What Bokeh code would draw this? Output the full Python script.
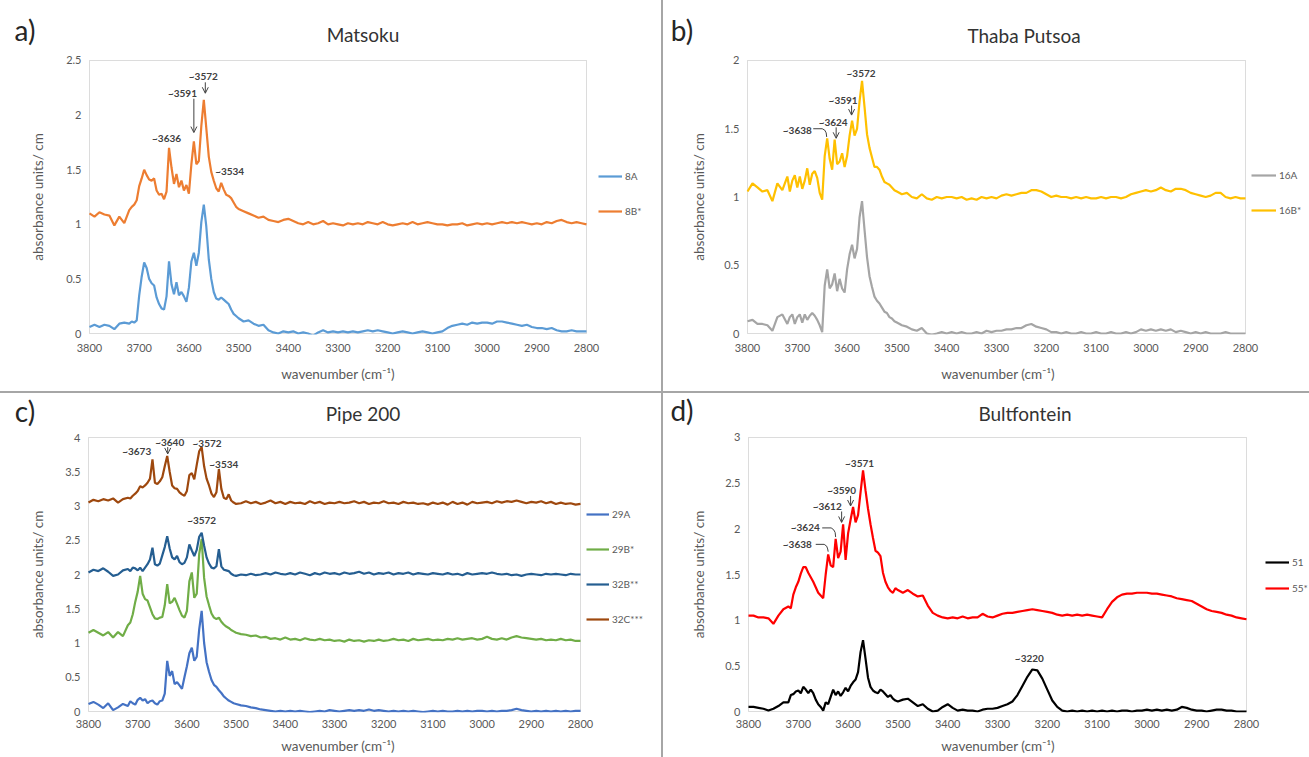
from bokeh.plotting import figure
from bokeh.layouts import row, column
from bokeh.models import (Range1d, FixedTicker, NumeralTickFormatter, Label, Arrow,
                          OpenHead, Legend, LegendItem, Div, BoxAnnotation)
from bokeh.embed import file_html
from bokeh.resources import INLINE

# ---------------- wavenumber grid (cm-1) ----------------
WN = list(range(3800, 3720, -10)) + list(range(3720, 3495, -5)) + list(range(3490, 2795, -10))

X_TICKS = [3800, 3700, 3600, 3500, 3400, 3300, 3200, 3100, 3000, 2900, 2800]
X_LEFT, X_RIGHT = 3800, 2800

# ---------------- a) Matsoku ----------------
S_8A = [0.06, 0.08, 0.06, 0.08, 0.07, 0.04, 0.09, 0.10,
        0.09, 0.11, 0.10, 0.12, 0.35, 0.52, 0.65, 0.60, 0.50,
        0.46, 0.44, 0.33, 0.27, 0.23, 0.22, 0.34, 0.66, 0.45,
        0.36, 0.47, 0.35, 0.38, 0.34, 0.29, 0.42, 0.66, 0.74,
        0.62, 0.74, 1.02, 1.18, 0.98, 0.68, 0.50, 0.38, 0.32,
        0.31, 0.33, 0.31, 0.29, 0.27, 0.22, 0.18, 0.16, 0.14,
        0.11, 0.12, 0.09, 0.07, 0.08, 0.03, 0.01, 0.00, 0.02, 0.01,
        0.02, 0.00, 0.01, 0.00, -0.02, 0.01, 0.03, 0.01, 0.02, 0.01,
        0.02, 0.01, 0.02, 0.01, 0.02, 0.03, 0.02, 0.03, 0.02, 0.01,
        0.00, 0.01, 0.02, 0.01, 0.00, 0.01, 0.02, 0.01, 0.00, 0.01,
        0.02, 0.05, 0.07, 0.08, 0.09, 0.08, 0.10, 0.09, 0.10, 0.10,
        0.09, 0.11, 0.11, 0.10, 0.09, 0.08, 0.07, 0.08, 0.06, 0.05,
        0.05, 0.04, 0.05, 0.03, 0.02, 0.02, 0.03, 0.02, 0.02, 0.02]
S_8B = [1.10, 1.07, 1.11, 1.09, 1.08, 0.99, 1.07, 1.01,
        1.13, 1.16, 1.18, 1.22, 1.35, 1.42, 1.50, 1.45, 1.41,
        1.40, 1.42, 1.31, 1.27, 1.28, 1.23, 1.30, 1.70, 1.52,
        1.37, 1.46, 1.34, 1.40, 1.31, 1.36, 1.28, 1.55, 1.76,
        1.55, 1.58, 1.90, 2.14, 1.88, 1.62, 1.48, 1.40, 1.33,
        1.30, 1.38, 1.32, 1.27, 1.26, 1.24, 1.20, 1.16, 1.14,
        1.12, 1.10, 1.08, 1.06, 1.07, 1.04, 1.03, 1.02, 1.04, 1.05,
        1.03, 1.01, 1.00, 1.02, 1.00, 1.01, 1.03, 1.00, 1.01, 1.00,
        0.99, 1.01, 1.00, 1.01, 1.00, 1.02, 1.01, 1.00, 1.02, 1.00,
        0.99, 1.00, 1.01, 1.00, 1.02, 1.00, 1.01, 1.02, 1.01, 1.00,
        1.00, 0.99, 1.00, 1.00, 1.01, 0.99, 1.00, 1.01, 1.00, 1.01,
        1.00, 1.01, 1.02, 1.01, 1.02, 1.01, 1.02, 1.01, 1.00, 1.01,
        1.00, 1.02, 1.01, 1.03, 1.04, 1.02, 1.01, 1.02, 1.01, 1.00]

# ---------------- b) Thaba Putsoa ----------------
S_16A = [0.09, 0.10, 0.07, 0.07, 0.06, 0.02, 0.12, 0.14,
         0.07, 0.12, 0.14, 0.07, 0.12, 0.14, 0.08, 0.14, 0.10,
         0.13, 0.15, 0.13, 0.10, 0.06, 0.01, 0.35, 0.47, 0.33,
         0.36, 0.44, 0.31, 0.40, 0.33, 0.30, 0.47, 0.58, 0.65,
         0.55, 0.62, 0.85, 0.97, 0.76, 0.56, 0.42, 0.34, 0.27,
         0.24, 0.22, 0.19, 0.16, 0.15, 0.12, 0.11, 0.09, 0.08,
         0.06, 0.05, 0.03, 0.02, 0.04, 0.00, -0.01, 0.00, 0.01, 0.00,
         0.01, 0.00, 0.01, 0.00, 0.00, 0.01, 0.00, 0.02, 0.01, 0.02,
         0.02, 0.03, 0.03, 0.04, 0.04, 0.06, 0.07, 0.05, 0.04, 0.03,
         0.01, 0.01, 0.00, 0.01, 0.00, 0.00, 0.01, 0.00, 0.00, 0.01,
         0.00, 0.00, 0.01, 0.00, 0.00, 0.01, 0.00, 0.01, 0.03, 0.02,
         0.03, 0.02, 0.03, 0.02, 0.03, 0.01, 0.02, 0.01, 0.00, 0.01,
         0.00, 0.01, 0.00, 0.00, 0.00, 0.01, 0.00, 0.00, 0.00, 0.00]
S_16B = [1.04, 1.10, 1.07, 1.04, 1.05, 0.97, 1.10, 1.05,
         1.15, 1.04, 1.12, 1.16, 1.07, 1.15, 1.06, 1.12, 1.21,
         1.09, 1.17, 1.19, 1.14, 1.03, 0.98, 1.30, 1.43, 1.28,
         1.20, 1.42, 1.24, 1.26, 1.32, 1.22, 1.30, 1.45, 1.56,
         1.45, 1.50, 1.70, 1.85, 1.66, 1.46, 1.36, 1.29, 1.22,
         1.22, 1.20, 1.15, 1.11, 1.10, 1.09, 1.07, 1.05, 1.04,
         1.02, 1.03, 1.00, 0.99, 1.02, 0.99, 0.98, 1.00, 0.99, 1.00,
         1.00, 0.99, 1.00, 0.98, 0.99, 0.98, 1.00, 0.99, 1.00, 0.99,
         1.01, 1.02, 1.01, 1.02, 1.03, 1.03, 1.05, 1.05, 1.04, 1.02,
         1.00, 1.01, 1.00, 1.00, 0.99, 1.00, 0.99, 1.00, 0.99, 0.99,
         1.00, 0.99, 1.00, 1.00, 0.99, 1.00, 1.02, 1.03, 1.04, 1.05,
         1.04, 1.05, 1.07, 1.05, 1.04, 1.06, 1.06, 1.05, 1.03, 1.02,
         1.01, 1.00, 1.01, 1.03, 1.03, 1.00, 0.99, 1.00, 0.99, 0.99]

# ---------------- c) Pipe 200 ----------------
S_29A = [0.11, 0.14, 0.10, 0.05, 0.12, 0.02, 0.06, 0.11,
         0.08, 0.15, 0.12, 0.10, 0.17, 0.20, 0.16, 0.18, 0.12,
         0.15, 0.16, 0.12, 0.10, 0.15, 0.16, 0.26, 0.74, 0.52,
         0.59, 0.40, 0.43, 0.38, 0.33, 0.50, 0.66, 0.85, 0.93,
         0.74, 0.80, 1.20, 1.47, 1.00, 0.72, 0.58, 0.46, 0.39,
         0.36, 0.31, 0.27, 0.22, 0.19, 0.16, 0.14, 0.12, 0.11,
         0.09, 0.08, 0.06, 0.05, 0.03, 0.02, 0.01, 0.00, 0.01, 0.00,
         0.01, 0.00, 0.01, 0.00, -0.01, 0.00, 0.01, 0.00, 0.02, 0.01,
         0.00, 0.01, 0.02, 0.01, 0.02, 0.01, 0.03, 0.01, 0.02, 0.01,
         0.00, 0.01, 0.00, 0.01, 0.00, 0.01, 0.00, -0.01, 0.00, 0.01,
         0.00, 0.01, 0.00, 0.00, 0.01, 0.00, 0.01, 0.00, 0.01, 0.01,
         0.00, 0.01, 0.00, 0.01, 0.01, 0.02, 0.04, 0.02, 0.01, 0.00,
         0.01, 0.00, 0.01, 0.00, 0.01, 0.00, 0.01, 0.00, 0.01, 0.01]
S_29B = [1.15, 1.19, 1.15, 1.11, 1.16, 1.08, 1.16, 1.10,
         1.26, 1.30, 1.42, 1.60, 1.75, 1.98, 1.72, 1.64, 1.62,
         1.52, 1.42, 1.36, 1.35, 1.37, 1.38, 1.55, 1.86, 1.58,
         1.60, 1.66, 1.57, 1.48, 1.40, 1.37, 1.47, 1.90, 2.03,
         1.66, 1.72, 2.30, 2.52, 1.95, 1.68, 1.55, 1.43, 1.37,
         1.35, 1.37, 1.31, 1.27, 1.24, 1.22, 1.19, 1.17, 1.15,
         1.13, 1.12, 1.10, 1.11, 1.08, 1.09, 1.06, 1.07, 1.05, 1.08,
         1.05, 1.06, 1.04, 1.07, 1.05, 1.04, 1.06, 1.04, 1.05, 1.03,
         1.04, 1.02, 1.05, 1.03, 1.04, 1.02, 1.04, 1.03, 1.05, 1.03,
         1.04, 1.06, 1.04, 1.05, 1.03, 1.06, 1.04, 1.05, 1.06, 1.04,
         1.05, 1.04, 1.06, 1.05, 1.07, 1.05, 1.06, 1.07, 1.05, 1.06,
         1.09, 1.06, 1.05, 1.07, 1.05, 1.08, 1.10, 1.08, 1.07, 1.06,
         1.05, 1.06, 1.04, 1.05, 1.04, 1.06, 1.04, 1.05, 1.03, 1.03]
S_32B = [2.03, 2.07, 2.05, 2.09, 2.04, 1.98, 2.00, 2.06,
         2.08, 2.05, 2.10, 2.09, 2.06, 2.10, 2.05, 2.10, 2.15,
         2.22, 2.39, 2.15, 2.13, 2.16, 2.28, 2.40, 2.56, 2.38,
         2.25, 2.22, 2.27, 2.18, 2.15, 2.17, 2.25, 2.44, 2.35,
         2.27, 2.36, 2.55, 2.61, 2.42, 2.25, 2.16, 2.10, 2.09,
         2.12, 2.37, 2.12, 2.07, 2.06, 2.05, 2.01, 1.99, 1.98,
         2.00, 1.99, 2.01, 1.99, 2.00, 2.02, 2.00, 2.03, 2.01, 2.00,
         2.02, 2.00, 2.03, 2.01, 1.99, 2.02, 2.00, 2.03, 2.01, 2.02,
         2.00, 2.03, 2.01, 2.02, 2.04, 2.01, 2.03, 2.00, 2.02, 2.01,
         2.03, 2.00, 2.02, 2.01, 2.03, 2.00, 2.02, 2.01, 2.00, 2.02,
         2.01, 2.00, 2.02, 2.00, 2.01, 1.99, 2.02, 2.00, 2.01, 2.02,
         2.01, 2.03, 2.01, 2.00, 2.01, 1.99, 2.00, 1.98, 2.00, 2.01,
         2.00, 1.99, 2.01, 2.00, 2.01, 2.00, 1.99, 2.01, 2.00, 2.00]
S_32C = [3.05, 3.09, 3.07, 3.10, 3.08, 3.11, 3.05, 3.10,
         3.12, 3.11, 3.15, 3.18, 3.22, 3.29, 3.27, 3.30, 3.34,
         3.40, 3.68, 3.34, 3.32, 3.36, 3.42, 3.58, 3.73, 3.50,
         3.30, 3.26, 3.25, 3.20, 3.17, 3.15, 3.22, 3.45, 3.48,
         3.39, 3.60, 3.80, 3.86, 3.58, 3.40, 3.30, 3.18, 3.13,
         3.20, 3.54, 3.25, 3.12, 3.10, 3.17, 3.08, 3.05, 3.03,
         3.04, 3.07, 3.04, 3.06, 3.03, 3.05, 3.08, 3.04, 3.06, 3.03,
         3.06, 3.04, 3.05, 3.03, 3.07, 3.04, 3.06, 3.03, 3.05, 3.04,
         3.06, 3.04, 3.05, 3.07, 3.04, 3.06, 3.03, 3.05, 3.04, 3.07,
         3.04, 3.05, 3.03, 3.06, 3.04, 3.05, 3.03, 3.04, 3.02, 3.05,
         3.03, 3.05, 3.02, 3.06, 3.03, 3.05, 3.02, 3.06, 3.04, 3.05,
         3.06, 3.04, 3.07, 3.05, 3.07, 3.06, 3.08, 3.06, 3.04, 3.06,
         3.05, 3.07, 3.04, 3.06, 3.03, 3.05, 3.03, 3.04, 3.02, 3.03]

# ---------------- d) Bultfontein ----------------
S_51 = [0.05, 0.05, 0.04, 0.03, 0.01, 0.03, 0.06, 0.10,
        0.10, 0.18, 0.19, 0.22, 0.23, 0.20, 0.27, 0.24, 0.20,
        0.24, 0.20, 0.13, 0.08, 0.05, 0.01, 0.10, 0.08, 0.16,
        0.24, 0.18, 0.22, 0.17, 0.21, 0.26, 0.22, 0.28, 0.32,
        0.35, 0.43, 0.65, 0.78, 0.58, 0.37, 0.27, 0.23, 0.21,
        0.20, 0.24, 0.22, 0.19, 0.16, 0.18, 0.14, 0.12, 0.11,
        0.13, 0.14, 0.10, 0.06, 0.08, 0.03, 0.00, 0.01, 0.05, 0.08,
        0.04, 0.01, 0.02, 0.01, 0.01, 0.00, 0.02, 0.03, 0.03, 0.04,
        0.06, 0.08, 0.11, 0.18, 0.28, 0.38, 0.46, 0.45, 0.36, 0.24,
        0.12, 0.05, 0.01, 0.00, 0.01, 0.00, 0.01, 0.00, 0.01, 0.00,
        0.01, 0.00, 0.01, 0.00, 0.01, 0.01, 0.00, 0.01, 0.01, 0.02,
        0.01, 0.02, 0.01, 0.02, 0.01, 0.02, 0.05, 0.04, 0.02, 0.01,
        0.01, 0.00, 0.01, 0.02, 0.02, 0.01, 0.01, 0.00, 0.00, 0.00]
S_55 = [1.05, 1.05, 1.03, 1.03, 1.02, 0.96, 1.05, 1.12,
        1.15, 1.13, 1.28, 1.36, 1.42, 1.51, 1.58, 1.58, 1.52,
        1.47, 1.42, 1.36, 1.30, 1.27, 1.24, 1.50, 1.72, 1.60,
        1.58, 1.89, 1.68, 1.75, 2.05, 1.66, 1.95, 2.10, 2.24,
        2.07, 2.15, 2.40, 2.64, 2.42, 2.22, 2.05, 1.90, 1.76,
        1.74, 1.70, 1.52, 1.42, 1.36, 1.32, 1.30, 1.35, 1.33,
        1.30, 1.33, 1.29, 1.26, 1.27, 1.16, 1.08, 1.05, 1.03, 1.02,
        1.03, 1.02, 1.04, 1.02, 1.03, 1.03, 1.07, 1.04, 1.03, 1.05,
        1.07, 1.08, 1.08, 1.09, 1.10, 1.11, 1.12, 1.11, 1.10, 1.09,
        1.08, 1.06, 1.05, 1.06, 1.05, 1.06, 1.05, 1.06, 1.05, 1.04,
        1.03, 1.12, 1.20, 1.25, 1.28, 1.29, 1.29, 1.30, 1.30, 1.30,
        1.29, 1.29, 1.28, 1.27, 1.26, 1.24, 1.23, 1.22, 1.21, 1.18,
        1.15, 1.12, 1.10, 1.09, 1.08, 1.06, 1.05, 1.03, 1.02, 1.01]

# ---------------- peak annotations: (text, wavenumber, absorbance) ----------------
NOTES_A = [("~3572", 3571, 2.36), ("~3591", 3613, 2.20), ("~3636", 3645, 1.79), ("~3534", 3518, 1.49)]
ARROWS_A = [(3567, 2.30, 2.20), (3590, 2.15, 1.84)]
NOTES_B = [("~3572", 3572, 1.91), ("~3591", 3608, 1.71), ("~3624", 3628, 1.55), ("~3638", 3700, 1.49)]
ARROWS_B = [(3591, 1.67, 1.60), (3622, 1.51, 1.43)]
LINKS_B = [([3668, 3650, 3645, 3642, 3641], [1.50, 1.50, 1.49, 1.47, 1.44])]
NOTES_C = [("~3673", 3702, 3.81), ("~3640", 3635, 3.93), ("~3572", 3559, 3.92),
           ("~3534", 3525, 3.62), ("~3572", 3570, 2.80)]
ARROWS_C = [(3639, 3.86, 3.76)]
NOTES_D = [("~3571", 3577, 2.72), ("~3590", 3613, 2.43), ("~3612", 3642, 2.25),
           ("~3624", 3686, 2.02), ("~3638", 3702, 1.83), ("~3220", 3236, 0.59)]
ARROWS_D = [(3595, 2.36, 2.25), (3613, 2.19, 2.07)]
LINKS_D = [([3652, 3634, 3629, 3626, 3625], [2.01, 2.01, 1.99, 1.96, 1.91]),
           ([3665, 3648, 3643, 3641, 3640], [1.83, 1.83, 1.81, 1.78, 1.75])]

FONT = "Lato"
GREY = "#595959"
INK = "#404040"
SEP = "#a6a6a6"
X_LABEL = "wavenumber (cm\u207b\u00b9)"


def header(width, height, title, letter, title_xy, letter_xy):
    html = (
        f'<div style="position:relative;width:{width}px;height:{height}px;'
        f'font-family:Lato,sans-serif;overflow:visible;">'
        f'<span style="position:absolute;left:{letter_xy[0]}px;top:{letter_xy[1]}px;'
        f'transform:translate(-50%,-50%);font-size:28px;line-height:1;color:#262626;'
        f'white-space:nowrap;">{letter}</span>'
        f'<span style="position:absolute;left:{title_xy[0]}px;top:{title_xy[1]}px;'
        f'transform:translate(-50%,-50%);font-size:19px;line-height:1;color:#333333;'
        f'white-space:nowrap;">{title}</span></div>'
    )
    return Div(text=html, width=width, height=height, margin=0)


def footer(width, height, cx, cy):
    html = (
        f'<div style="position:relative;width:{width}px;height:{height}px;'
        f'font-family:Lato,sans-serif;">'
        f'<span style="position:absolute;left:{cx}px;top:{cy}px;'
        f'transform:translate(-50%,-50%);font-size:13.5px;line-height:1;color:{GREY};'
        f'white-space:nowrap;">{X_LABEL}</span></div>'
    )
    return Div(text=html, width=width, height=height, margin=0)


def panel(width, height, plot_box, ymax, yticks, series, legend_xy, legend_gap, glyph_w,
          tick_standoff, y_standoff, notes, arrows, links):
    # plot_box: left, top, width, height of the drawn plot area inside this canvas (px)
    bl, bt, pw, ph = plot_box
    bb = height - bt - ph - 1
    x_start = X_LEFT + (X_LEFT - X_RIGHT) / pw
    x_end = X_LEFT - (X_LEFT - X_RIGHT) * (width - bl) / pw
    y_pad = ymax / ph
    p = figure(width=width, height=height, title=None,
               x_range=Range1d(x_start, x_end), y_range=Range1d(-y_pad, ymax + y_pad),
               output_backend="svg", toolbar_location=None,
               min_border_left=bl - 1, min_border_right=0,
               min_border_top=bt - 1, min_border_bottom=bb)
    p.grid.visible = False
    p.outline_line_color = None
    p.add_layout(BoxAnnotation(left=X_LEFT, right=X_RIGHT, bottom=0, top=ymax,
                               fill_alpha=0, line_color="#8c8c8c", line_width=1,
                               level="underlay"))
    p.xaxis.ticker = FixedTicker(ticks=X_TICKS)
    p.yaxis.ticker = FixedTicker(ticks=yticks)
    p.yaxis.formatter = NumeralTickFormatter(format="0.[0]")
    p.yaxis.axis_label = "absorbance units/ cm"
    for ax in (p.xaxis[0], p.yaxis[0]):
        ax.axis_line_color = None
        ax.major_tick_line_color = None
        ax.minor_tick_line_color = None
        ax.major_tick_out = 0
        ax.major_tick_in = 0
        ax.minor_tick_out = 0
        ax.major_label_text_font = FONT
        ax.major_label_text_font_size = "11px"
        ax.major_label_text_color = GREY
        ax.axis_label_text_font = FONT
        ax.axis_label_text_font_size = "13.5px"
        ax.axis_label_text_font_style = "normal"
        ax.axis_label_text_color = GREY
    p.xaxis.major_label_standoff = tick_standoff
    p.yaxis.major_label_standoff = 7
    p.yaxis.axis_label_standoff = y_standoff

    items = []
    for name, vals, color in series:
        r = p.line(WN, vals, line_color=color, line_width=2.2)
        items.append(LegendItem(label=name, renderers=[r]))
    leg = Legend(items=items, location=legend_xy, orientation="vertical",
                 glyph_width=glyph_w, glyph_height=20, label_height=20, label_width=20,
                 label_standoff=3, spacing=legend_gap, padding=0, margin=0,
                 border_line_color=None, background_fill_alpha=0,
                 label_text_font=FONT, label_text_font_size="10px",
                 label_text_color=GREY)
    p.add_layout(leg)

    for txt, wx, wy in notes:
        p.add_layout(Label(x=wx, y=wy, text=txt, text_align="center", text_baseline="middle",
                           text_font=FONT, text_font_size="10px", text_font_style="bold",
                           text_color=INK))
    for wx, y0, y1 in arrows:
        p.add_layout(Arrow(x_start=wx, y_start=y0, x_end=wx, y_end=y1,
                           line_color=INK, line_width=1,
                           end=OpenHead(size=6, line_color=INK, line_width=1)))
    for xs, ys in links:
        p.line(xs, ys, line_color=INK, line_width=1)
    return p


def vline(h):
    return Div(text="", width=2, height=h, margin=0, styles={"background-color": SEP})


ha = header(661, 50, "Matsoku", "a)", (363, 34), (25, 30))
hb = header(646, 50, "Thaba Putsoa", "b)", (361, 35), (19, 30))
pa = panel(661, 312, (89, 9, 497, 274), 2.5, [0, 0.5, 1, 1.5, 2, 2.5],
           [("8A", S_8A, "#5B9BD5"), ("8B*", S_8B, "#ED7D31")],
           (510, 113), 15, 24, 9, 17, NOTES_A, ARROWS_A, [])
pb = panel(646, 312, (84, 10, 498, 274), 2, [0, 0.5, 1, 1.5, 2],
           [("16A", S_16A, "#A5A5A5"), ("16B*", S_16B, "#FFC000")],
           (505, 114), 15, 25, 9, 14, NOTES_B, ARROWS_B, LINKS_B)
fa = footer(661, 29, 338, 13)
fb = footer(646, 29, 335, 13)
hc = header(661, 34, "Pipe 200", "c)", (363, 20), (25, 18))
hd = header(646, 34, "Bultfontein", "d)", (362, 20), (19, 17))
pc = panel(661, 308, (88, 10, 492, 274), 4, [0, 0.5, 1, 1.5, 2, 2.5, 3, 3.5, 4],
           [("29A", S_29A, "#4472C4"), ("29B*", S_29B, "#70AD47"),
            ("32B**", S_32B, "#255E91"), ("32C***", S_32C, "#9E480E")],
           (499, 83), 15, 23, 7, 16, NOTES_C, ARROWS_C, [])
pd = panel(646, 308, (85, 10, 498, 275), 3, [0, 0.5, 1, 1.5, 2, 2.5, 3],
           [("51", S_51, "#000000"), ("55*", S_55, "#FF0000")],
           (518, 114), 6, 24, 7, 15, NOTES_D, ARROWS_D, LINKS_D)
fc = footer(661, 22, 338, 12)
fd = footer(646, 22, 335, 12)

hsep = Div(text="", width=1309, height=2, margin=0, styles={"background-color": SEP})

layout = column(row(ha, vline(50), hb),
                row(pa, vline(312), pb),
                row(fa, vline(29), fb),
                hsep,
                row(hc, vline(34), hd),
                row(pc, vline(308), pd),
                row(fc, vline(22), fd))

open("out.html", "w").write(file_html(layout, INLINE, "FTIR spectra"))
